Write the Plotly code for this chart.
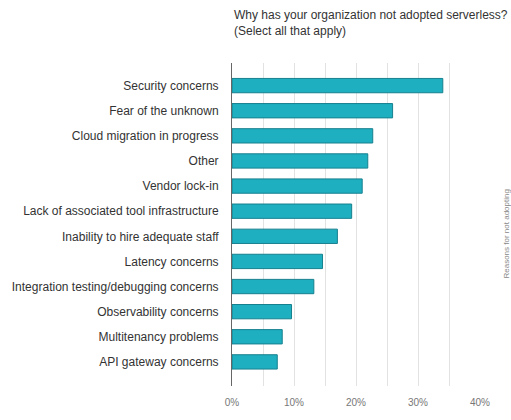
import plotly.graph_objects as go

categories = [
    "Security concerns",
    "Fear of the unknown",
    "Cloud migration in progress",
    "Other",
    "Vendor lock-in",
    "Lack of associated tool infrastructure",
    "Inability to hire adequate staff",
    "Latency concerns",
    "Integration testing/debugging concerns",
    "Observability concerns",
    "Multitenancy problems",
    "API gateway concerns",
]
values = [34.0, 25.9, 22.7, 21.9, 21.0, 19.3, 17.0, 14.6, 13.2, 9.6, 8.1, 7.3]
tick_vals = [0, 10, 20, 30, 40]
tick_text = ["0%", "10%", "20%", "30%", "40%"]
title_text = "Why has your organization not adopted serverless?<br>(Select all that apply)"
side_text = "Reasons for not adopting"

FONT = "Liberation Sans, Arial, sans-serif"

fig = go.Figure(
    go.Bar(
        x=values,
        y=categories,
        orientation="h",
        width=0.57,
        marker=dict(color="#1eafc1", line=dict(color="#17808e", width=1)),
        hoverinfo="x+y",
    )
)

fig.update_layout(
    width=511,
    height=420,
    margin=dict(l=232, r=31, t=63, b=18),
    paper_bgcolor="white",
    plot_bgcolor="white",
    font=dict(family=FONT, size=12, color="#333333"),
    showlegend=False,
    bargap=0.43,
)

fig.update_xaxes(
    range=[0, 40],
    tickvals=tick_vals,
    ticktext=tick_text,
    showgrid=False,
    minor=dict(dtick=5, showgrid=True, gridcolor="#e2e2e2", gridwidth=1, tick0=0),
    zeroline=False,
    showline=False,
    ticks="outside",
    ticklen=7,
    tickcolor="rgba(0,0,0,0)",
    tickfont=dict(size=10, color="#777777"),
)

fig.update_yaxes(
    type="category",
    categoryorder="array",
    categoryarray=categories,
    range=[11.96, -0.9],
    showgrid=False,
    showline=True,
    linecolor="#666666",
    linewidth=1,
    ticks="outside",
    ticklen=10,
    tickcolor="rgba(0,0,0,0)",
    tickfont=dict(size=12, color="#333333"),
)

fig.add_annotation(
    text=title_text,
    xref="paper", yref="paper",
    x=0, y=1,
    yshift=57,
    xanchor="left", yanchor="top",
    align="left",
    showarrow=False,
    font=dict(size=12, color="#333333", family=FONT),
)

fig.add_annotation(
    text=side_text,
    xref="paper", yref="paper",
    x=1, y=0.5,
    xshift=26,
    yshift=-10,
    xanchor="center", yanchor="middle",
    textangle=-90,
    showarrow=False,
    font=dict(size=8, color="#888888", family=FONT),
)

fig.write_html("out.html")
